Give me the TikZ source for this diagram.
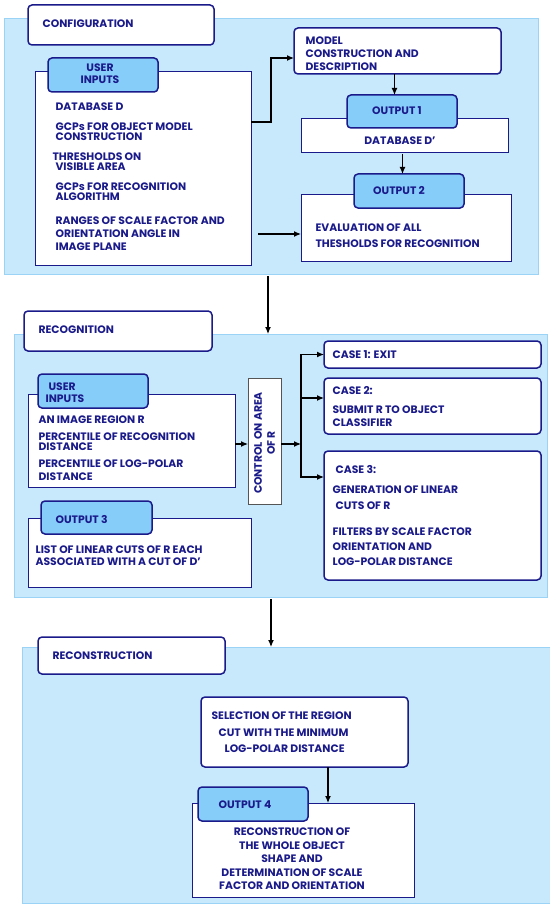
\documentclass[tikz,border=0pt]{standalone}
\usepackage{fontspec}
\setmainfont{Poppins}
\usetikzlibrary{arrows.meta}
\definecolor{navy}{HTML}{1A1A8A}
\definecolor{hellblau}{HTML}{C8E8FB}
\definecolor{randblau}{HTML}{9AD3F5}
\definecolor{reiterblau}{HTML}{87CDF9}
\definecolor{grau}{HTML}{555555}

\tikzset{
	bereich/.style={fill=hellblau,draw=randblau,line width=0.8pt,inner sep=0pt,outer sep=0pt},
	titel/.style={fill=white,draw=navy,line width=1.5pt,rounded corners=4pt,inner sep=0pt,outer sep=0pt},
	reiter/.style={fill=reiterblau,draw=navy,line width=1.5pt,rounded corners=4pt,inner sep=0pt,outer sep=0pt},
	feld/.style={fill=white,draw=navy,line width=0.8pt,inner sep=0pt,outer sep=0pt},
	kontr/.style={fill=white,draw=grau,line width=0.8pt,inner sep=0pt,outer sep=0pt},
	txt/.style={text=navy,font=\bfseries\fontsize{10.8}{10}\selectfont,anchor=west,inner sep=0pt,align=left}
}

% Kasten: Name, Stil, x, y (links oben), Breite, Hoehe
\def\kasten#1#2#3#4#5#6{
	\node[#2,anchor=north west,minimum width=#5pt,minimum height=#6pt] (#1) at (#3,#4) {};
}

\begin{document}
\begin{tikzpicture}[>={Latex[length=7pt,width=6pt]},line width=1.2pt,x=1pt,y=-1pt]
\useasboundingbox (0,0) rectangle (549,904);

% Konfiguration
\kasten{konfig}{bereich}{4}{18}{534}{256}
\kasten{konfigtitel}{titel}{28}{5}{186}{40}
\node[txt] (tkonfig) at (42,24) {CONFIGURATION};

\kasten{eingabe1}{feld}{35}{71}{216}{194}
\kasten{eingabe1reiter}{reiter}{48}{58}{110}{34}
\node[txt,anchor=center,align=center] (teingabe1) at (100,74) {USER\\[2pt]INPUTS};
\node[txt] (tdb) at (55,107) {DATABASE D};
\node[txt] (tgcp1) at (55,132) {GCPs FOR OBJECT MODEL\\CONSTRUCTION};
\node[txt] (tschw) at (52,162) {THRESHOLDS ON\\\hspace{3pt}VISIBLE AREA};
\node[txt] (tgcp2) at (55,192) {GCPs FOR RECOGNITION\\ALGORITHM};
\node[txt] (tber) at (55,234) {RANGES OF SCALE FACTOR AND\\[3pt]ORIENTATION ANGLE IN\\[3pt]IMAGE PLANE};

\kasten{modell}{titel}{294}{28}{207}{46}
\node[txt] (tmodell) at (305,54) {MODEL\\[3pt]CONSTRUCTION AND\\[3pt]DESCRIPTION};

\kasten{datenbank}{feld}{301}{118}{207}{34}
\kasten{ausgabe1}{reiter}{347}{95}{110}{33}
\node[txt,anchor=center] (tausgabe1) at (397,111) {OUTPUT 1};
\node[txt,anchor=center] (tdatenbank) at (400,141) {DATABASE D'};

\kasten{bewertung}{feld}{301}{194}{210}{67}
\kasten{ausgabe2}{reiter}{354}{174}{110}{34}
\node[txt,anchor=center] (tausgabe2) at (399,191) {OUTPUT 2};
\node[txt] (tbewertung) at (315,236) {EVALUATION OF ALL\\[6pt]THESHOLDS FOR RECOGNITION};

\draw[->] ([yshift=46pt]eingabe1.east) -- ++(20,0) |- ([yshift=-7pt]modell.west);
\draw[->] ([shift={(-43pt,-6.5pt)}]bewertung.west) -- ([yshift=-6.5pt]bewertung.west);
\draw[->] ([xshift=-3pt]modell.south) -- ([xshift=-3pt]modell.south |- ausgabe1.north);
\draw[->] ([shift={(-2pt,-2pt)}]datenbank.south) -- ([xshift=-2pt]datenbank.south |- ausgabe2.north);

% Erkennung
\kasten{erkennung}{bereich}{14}{334}{533}{263}
\draw[->] ([shift={(-3pt,-2pt)}]konfig.south) -- ([xshift=-3pt]konfig.south |- erkennung.north);
\kasten{erkennungtitel}{titel}{24}{311}{188}{40}
\node[txt] (terkennung) at (38,330) {RECOGNITION};

\kasten{eingabe2}{feld}{28}{394}{207}{93}
\kasten{eingabe2reiter}{reiter}{38}{374}{110}{34}
\node[txt] (teingabe2) at (45,393) {\hspace{3pt}USER\\[2pt]INPUTS};
\node[txt] (tbild) at (38,420) {AN IMAGE REGION R};
\node[txt] (tperz1) at (38,441.5) {PERCENTILE OF RECOGNITION\\DISTANCE};
\node[txt] (tperz2) at (38,470.5) {PERCENTILE OF LOG-POLAR\\[3pt]DISTANCE};

\kasten{kontrolle}{kontr}{248}{378}{33}{126}
\node[txt,anchor=center,align=center,rotate=90] (tkontrolle) at ([yshift=-2pt]kontrolle.center) {CONTROL ON AREA\\[3pt]OF R};

\kasten{fall1}{titel}{324}{341}{217}{27}
\kasten{fall2}{titel}{324}{378}{217}{56}
\kasten{fall3}{titel}{324}{451}{217}{129}
\node[txt] (tfall1) at (332,354.5) {CASE 1: EXIT};
\node[txt] (tfall2) at (332,391) {CASE 2:};
\node[txt] (tfall2b) at (332,416.5) {SUBMIT R TO OBJECT\\[3pt]CLASSIFIER};
\node[txt] (tfall3) at (335,470) {CASE 3:};
\node[txt] (tfall3b) at (332,498) {GENERATION OF LINEAR\\[6pt]\hspace{3pt}CUTS OF R};
\node[txt] (tfall3c) at (332,547) {FILTERS BY SCALE FACTOR\\[5pt]ORIENTATION AND\\[5pt]LOG-POLAR DISTANCE};

\coordinate (verzw) at (301,444);
\draw[->] ([yshift=-3.5pt]eingabe2.east) -- ([yshift=-3.5pt]eingabe2.east -| kontrolle.west);
\draw[->] ([yshift=-3pt]kontrolle.east) -- (verzw);
\draw[->] (verzw) |- (fall1.west);
\draw[->] (verzw) |- ([yshift=8pt]fall2.west);
\draw[->] (verzw) |- ([yshift=38.5pt]fall3.west);

\kasten{liste}{feld}{28}{518}{223}{69}
\kasten{ausgabe3}{reiter}{41}{501}{111}{33}
\node[txt] (tausgabe3) at (55,519) {OUTPUT 3};
\node[txt] (tliste) at (35,556) {LIST OF LINEAR CUTS OF R EACH\\[2pt]ASSOCIATED WITH A CUT OF D'};

% Rekonstruktion
\kasten{rekon}{bereich}{22}{647}{532}{256}
\draw[->] ([shift={(-9.5pt,-2pt)}]erkennung.south) -- ([xshift=-9.5pt]erkennung.south |- rekon.north);
\kasten{rekontitel}{titel}{38}{637}{187}{37}
\node[txt] (trekon) at (52,656) {RECONSTRUCTION};

\kasten{auswahl}{titel}{201}{697}{207}{70}
\node[txt] (tauswahl) at (211,732.5) {SELECTION OF THE REGION\\[6.5pt]\hspace{7pt}CUT WITH THE MINIMUM\\[6.5pt]\hspace{13pt}LOG-POLAR DISTANCE};

\kasten{ergebnis}{feld}{192}{803}{222}{94}
\draw[->] ([xshift=23.5pt]auswahl.south) -- ([xshift=23.5pt]auswahl.south |- ergebnis.north);
\kasten{ausgabe4}{reiter}{198}{787}{110}{34}
\node[txt] (tausgabe4) at (218,805) {OUTPUT 4};
\node[txt,anchor=center,align=center] (tergebnis) at (292,859) {RECONSTRUCTION OF\\[3.5pt]THE WHOLE OBJECT\\[3.5pt]SHAPE AND\\[3.5pt]DETERMINATION OF SCALE\\[3.5pt]FACTOR AND ORIENTATION};

\end{tikzpicture}
\end{document}
